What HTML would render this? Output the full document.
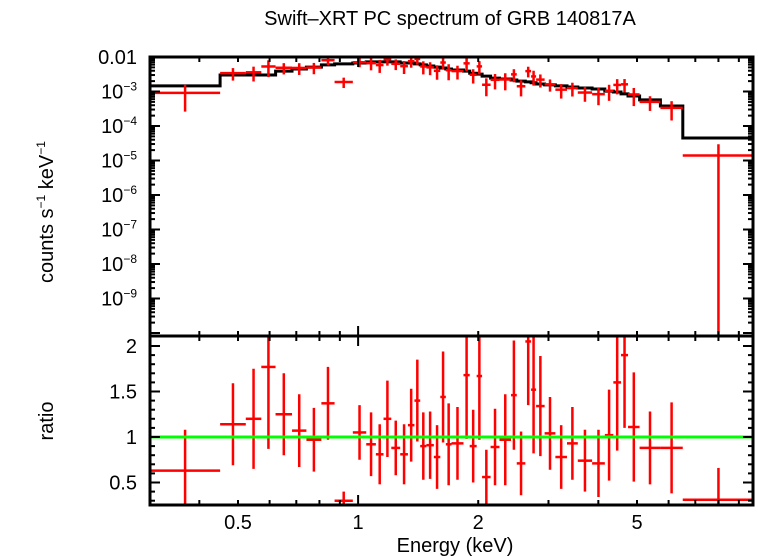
<!DOCTYPE html>
<html><head><meta charset="utf-8"><style>
html,body{margin:0;padding:0;background:#fff;}
svg{display:block;font-family:"Liberation Sans",sans-serif;}
</style></head><body>
<svg id="chart" width="758" height="556" viewBox="0 0 758 556" xmlns="http://www.w3.org/2000/svg">
<rect width="758" height="556" fill="#fff"/>
<text x="450" y="25" font-size="20" text-anchor="middle">Swift–XRT PC spectrum of GRB 140817A</text>
<text transform="translate(53,212) rotate(-90)" font-size="20" text-anchor="middle">counts s<tspan dy="-8" font-size="12">−1</tspan><tspan dy="8"> keV</tspan><tspan dy="-8" font-size="12">−1</tspan></text>
<text transform="translate(53,421) rotate(-90)" font-size="20" text-anchor="middle">ratio</text>
<text x="455" y="552" font-size="20" text-anchor="middle">Energy (keV)</text>
<g id="g-model"></g><g id="g-data"></g><g id="g-ratio"></g><g id="g-axes"></g>
</svg>
<script>
// bin edges (keV)
const binLo = [0.301,0.451,0.523,0.572,0.621,0.683,0.742,0.809,0.873,0.970,1.048,1.108,1.158,1.211,1.275,1.333,1.384,1.431,1.483,1.548,1.607,1.659,1.714,1.837,1.904,1.982,2.045,2.148,2.261,2.417,2.498,2.625,2.713,2.793,2.934,3.122,3.338,3.553,3.859,4.153,4.362,4.560,4.748,5.075,5.724,6.511];
const binHi = [0.451,0.523,0.572,0.621,0.683,0.742,0.809,0.873,0.970,1.048,1.108,1.158,1.211,1.275,1.333,1.384,1.431,1.483,1.548,1.607,1.659,1.714,1.837,1.904,1.982,2.045,2.148,2.261,2.417,2.498,2.625,2.713,2.793,2.934,3.122,3.338,3.553,3.859,4.153,4.362,4.560,4.748,5.075,5.724,6.511,9.83];
// folded model (counts/s/keV)
const model = [1.45e-3,3.0e-3,3.0e-3,3.0e-3,3.9e-3,4.5e-3,5.1e-3,5.9e-3,6.3e-3,6.7e-3,7.2e-3,7.2e-3,7.2e-3,7.2e-3,6.7e-3,6.7e-3,6.3e-3,5.9e-3,5.5e-3,5.1e-3,4.8e-3,4.5e-3,4.2e-3,3.9e-3,3.4e-3,3.2e-3,2.8e-3,2.45e-3,2.3e-3,2.15e-3,2.0e-3,1.9e-3,1.8e-3,1.65e-3,1.55e-3,1.45e-3,1.35e-3,1.26e-3,1.18e-3,1.03e-3,9.7e-4,8.5e-4,7.4e-4,5.7e-4,3.8e-4,4.5e-5];
// data/model ratio and error
const ratio = [0.63,1.14,1.2,1.77,1.25,1.07,0.97,1.37,0.30,1.05,0.92,0.81,1.2,0.88,0.81,1.13,1.4,0.9,0.91,0.78,1.44,0.92,0.93,1.68,0.9,1.67,0.56,0.89,0.97,1.46,0.71,2.05,1.52,1.34,1.04,0.78,0.93,0.74,0.71,1.02,1.6,1.9,1.11,0.88,0.88,0.31];
const ratioErr = [0.45,0.45,0.55,0.9,0.45,0.4,0.35,0.4,0.1,0.3,0.35,0.33,0.42,0.3,0.33,0.4,0.45,0.37,0.37,0.35,0.5,0.45,0.4,0.7,0.4,0.7,0.3,0.42,0.5,0.6,0.35,0.7,0.7,0.55,0.4,0.35,0.4,0.34,0.37,0.5,0.75,0.8,0.6,0.4,0.5,0.35];
const xTickLabels = ["0.5","1","2","5"];
const xTickVals = [0.5,1,2,5];
const ratioTickLabels = ["0.5","1","1.5","2"];
const ratioTickVals = [0.5,1,1.5,2];

const NS="http://www.w3.org/2000/svg";
const L=150,R=753,T1=57,B1=336,T2=336,B2=505;
const XMIN=Math.log10(0.5)-88/399, XMAX=Math.log10(0.5)+(R-238)/399;
const YTOP=-2, YBOT=-2-(B1-T1)/34.5;
const RTOP=1+(437-T2)/91, RBOT=1-(B2-437)/91;
function xs(e){return L+(Math.log10(e)-XMIN)/(XMAX-XMIN)*(R-L);}
function ys(v){const lv=Math.log10(v);return T1+(YTOP-lv)/(YTOP-YBOT)*(B1-T1);}
function yr(r){return T2+(RTOP-r)/(RTOP-RBOT)*(B2-T2);}
function mk(tag,attrs,parent){const el=document.createElementNS(NS,tag);for(const k in attrs)el.setAttribute(k,attrs[k]);parent.appendChild(el);return el;}
function clampY(y,t,b){return Math.max(t,Math.min(b,y));}

const gModel=document.getElementById('g-model');
let d='';
for(let i=0;i<binLo.length;i++){
  const y=ys(model[i]);
  d+=(i===0?'M':'L')+xs(binLo[i]).toFixed(1)+','+y.toFixed(1)+'L'+Math.min(R,xs(binHi[i])).toFixed(1)+','+y.toFixed(1);
}
const mp=mk('path',{d:d,fill:'none',stroke:'#000','stroke-width':3},gModel);



const gData=document.getElementById('g-data');
const gRatio=document.getElementById('g-ratio');
for(let i=0;i<binLo.length;i++){
  const xc=xs(Math.sqrt(binLo[i]*binHi[i]));
  const x0=xs(binLo[i]), x1=Math.min(R,xs(binHi[i]));
  const v=model[i]*ratio[i], ev=model[i]*ratioErr[i];
  const yc=ys(v), yu=clampY(ys(v+ev),T1,B1), yl=(v-ev)>0?clampY(ys(v-ev),T1,B1):B1;
  const g=mk('g',{stroke:'#f00','stroke-width':2.5},gData);
  
  
  mk('line',{x1:x0,x2:x1,y1:yc,y2:yc},g);
  mk('line',{x1:xc,x2:xc,y1:yu,y2:yl},g);
  const rc=yr(ratio[i]);
  const g2=mk('g',{stroke:'#f00','stroke-width':2.5},gRatio);
  
  
  if(rc>=T2&&rc<=B2) mk('line',{x1:x0,x2:x1,y1:rc,y2:rc},g2);
  mk('line',{x1:xc,x2:xc,y1:clampY(yr(ratio[i]+ratioErr[i]),T2,B2),y2:clampY(yr(ratio[i]-ratioErr[i]),T2,B2)},g2);
}
const gl=mk('line',{x1:L,x2:R,y1:yr(1),y2:yr(1),stroke:'#0f0','stroke-width':3},gRatio);



const gA=document.getElementById('g-axes');
function ln(x1,y1,x2,y2,w){mk('line',{x1:x1,y1:y1,x2:x2,y2:y2,stroke:'#000','stroke-width':w||2},gA);}
const f1=mk('rect',{x:L,y:T1,width:R-L,height:B1-T1,fill:'none',stroke:'#000','stroke-width':3},gA);


const f2=mk('rect',{x:L,y:T2,width:R-L,height:B2-T2,fill:'none',stroke:'#000','stroke-width':3},gA);


for(let dec=-1;dec<=1;dec++){for(let m=1;m<=9;m++){const e=m*Math.pow(10,dec);const x=xs(e);if(x<L+2||x>R-2)continue;const len=(m===1)?10:5;
  ln(x,T1,x,T1+len);ln(x,B1,x,B1-len);ln(x,T2,x,T2+len);ln(x,B2,x,B2-len);}}
for(let i=0;i<xTickVals.length;i++){const t=mk('text',{x:xs(xTickVals[i]),y:529,'font-size':20,'text-anchor':'middle'},gA);t.textContent=xTickLabels[i];
  
  }
for(let p=-2;p>=-10;p--){for(let m=1;m<=9;m++){const v=m*Math.pow(10,p);const y=ys(v);if(y<T1||y>B1-2)continue;const len=(m===1)?10:5;ln(L,y,L+len,y);ln(R,y,R-len,y);}}
const topLabels=[[-2,'0.01'],[-3,'−3'],[-4,'−4'],[-5,'−5'],[-6,'−6'],[-7,'−7'],[-8,'−8'],[-9,'−9']];
for(const [p,s] of topLabels){const y=ys(Math.pow(10,p))+7;const t=mk('text',{x:137,y:y,'font-size':20,'text-anchor':'end'},gA);
  if(p===-2){t.textContent=s;}else{t.innerHTML='10<tspan dy="-8" font-size="12">'+s+'</tspan>';}
  
  }
for(let k=3;k<=21;k++){const r=k/10;const y=yr(r);if(y<T2+2||y>B2-2)continue;const len=(k%5===0)?10:5;ln(L,y,L+len,y);ln(R,y,R-len,y);}
for(let i=0;i<ratioTickVals.length;i++){const t=mk('text',{x:137,y:yr(ratioTickVals[i])+7,'font-size':20,'text-anchor':'end'},gA);t.textContent=ratioTickLabels[i];
  
  }
</script>
</body></html>
